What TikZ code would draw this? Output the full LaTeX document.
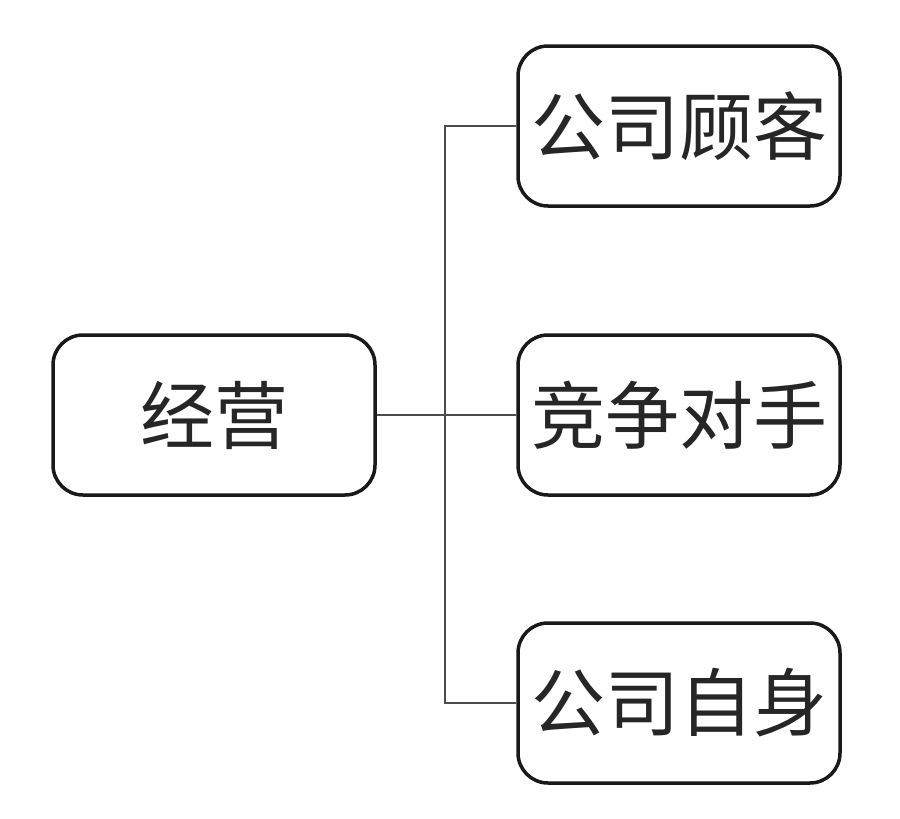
\documentclass[tikz,border=0pt]{standalone}
\usepackage{fontspec}
\newfontfamily\cjk{Noto Sans CJK SC}
\begin{document}
\begin{tikzpicture}[x=1pt,y=-1pt,
  box/.style={draw=black!90,line width=3.5pt,rounded corners=30pt,minimum width=322pt,minimum height=160pt,inner sep=0pt,font=\cjk\fontsize{74}{74}\selectfont,text=black!85},
  link/.style={draw=black!70,line width=2.2pt}]
\useasboundingbox (0,0) rectangle (900,819);
\fill[white] (0,0) rectangle (900,819);
\node[box] (jy) at (214,415) {经营};
\node[box] (gk) at (679,126) {公司顾客};
\node[box] (js) at (679,415) {竞争对手};
\node[box] (zs) at (679,703) {公司自身};
\coordinate (top) at (445,126);
\coordinate (bot) at (445,703);
\draw[link] (jy.east) -- (js.west);
\draw[link] (gk.west) -- (top) -- (bot) -- (zs.west);
\end{tikzpicture}
\end{document}
